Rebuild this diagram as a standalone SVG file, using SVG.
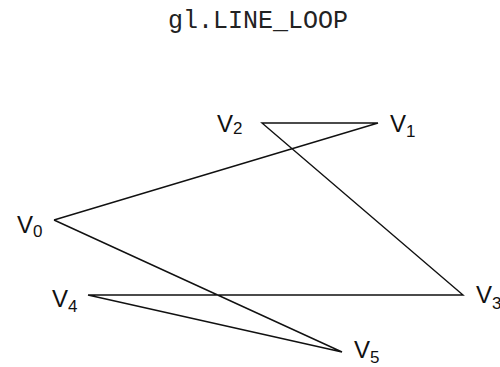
<svg xmlns="http://www.w3.org/2000/svg" width="500" height="367" viewBox="0 0 500 367">
<style>
.t{font-family:"Liberation Mono",monospace;font-size:25px;fill:#222}
.v{font-family:"Liberation Sans",Arial,sans-serif;font-size:24px;fill:#111}
.s{font-size:17px}
.e{stroke:#111;stroke-width:1.4;fill:none}
</style>
<rect width="500" height="367" fill="#fff"/>
<text class="t" x="258" y="28" text-anchor="middle">gl.LINE_LOOP</text>
<g id="connectors">
<polyline class="e" points="54,220 378,123 262,123 463,295 88,295 342,352 54,220"/>
</g>
<g id="v0"><text class="v" x="17" y="233">V<tspan class="s" dy="4">0</tspan></text></g>
<g id="v1"><text class="v" x="390" y="132">V<tspan class="s" dy="5">1</tspan></text></g>
<g id="v2"><text class="v" x="217" y="132">V<tspan class="s" dy="2">2</tspan></text></g>
<g id="v3"><text class="v" x="476" y="303">V<tspan class="s" dy="6">3</tspan></text></g>
<g id="v4"><text class="v" x="52" y="307">V<tspan class="s" dy="5">4</tspan></text></g>
<g id="v5"><text class="v" x="354" y="358">V<tspan class="s" dy="5">5</tspan></text></g>
</svg>
